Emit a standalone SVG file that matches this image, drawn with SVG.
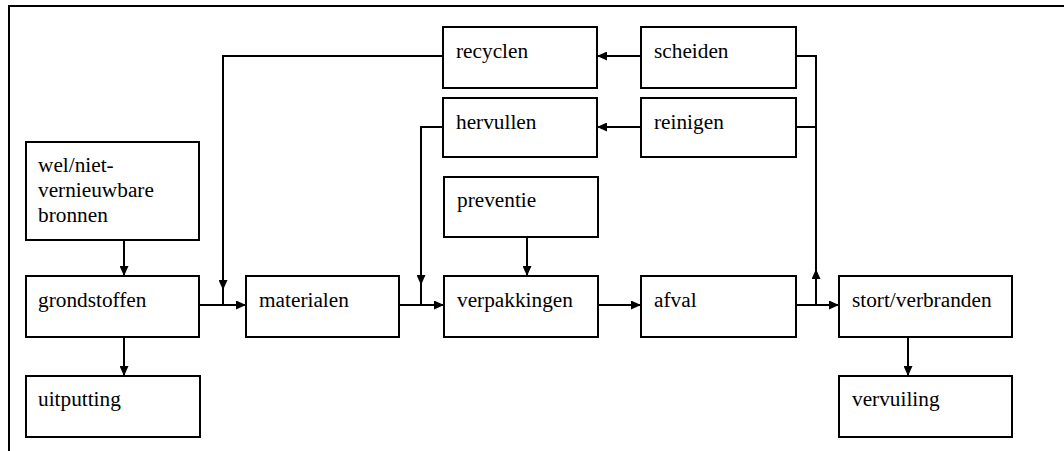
<svg xmlns="http://www.w3.org/2000/svg" width="1064" height="451" viewBox="0 0 1064 451">
<style>
.box{fill:#fff;stroke:#000;stroke-width:2}
.lbl{font-family:'Liberation Serif','DejaVu Serif','Noto Serif',serif;font-size:21.3px;fill:#000}
.ln{fill:none;stroke:#000;stroke-width:2}
</style>
<defs>
<marker id="ah" markerUnits="userSpaceOnUse" markerWidth="10" markerHeight="9" refX="10" refY="4.5" orient="auto">
<path d="M0,0 L10,4.5 L0,9 Z" fill="#000"/>
</marker>
</defs>
<rect width="1064" height="451" fill="#fff"/>
<g id="frame">
<path class="ln" d="M9,451 V6 H1064"/>
</g>
<g id="connectors">
<path class="ln" d="M124,240 V276" marker-end="url(#ah)"/>
<path class="ln" d="M124,337 V376" marker-end="url(#ah)"/>
<path class="ln" d="M199,305 H246" marker-end="url(#ah)"/>
<path class="ln" d="M443,56 H223 V290" marker-end="url(#ah)"/>
<path class="ln" d="M223,289 V305"/>
<path class="ln" d="M399,305 H444" marker-end="url(#ah)"/>
<path class="ln" d="M443,127 H421 V285" marker-end="url(#ah)"/>
<path class="ln" d="M421,284 V305"/>
<path class="ln" d="M527,237 V276" marker-end="url(#ah)"/>
<path class="ln" d="M598,305 H641" marker-end="url(#ah)"/>
<path class="ln" d="M641,56 H597" marker-end="url(#ah)"/>
<path class="ln" d="M641,127 H597" marker-end="url(#ah)"/>
<path class="ln" d="M796,305 H839" marker-end="url(#ah)"/>
<path class="ln" d="M796,56 H816 V270"/>
<path class="ln" d="M796,127 H816"/>
<path class="ln" d="M816,305 V269" marker-end="url(#ah)"/>
<path class="ln" d="M908,337 V376" marker-end="url(#ah)"/>
</g>
<g id="bronnen"><rect class="box" x="26" y="142" width="173" height="98"/><text class="lbl" x="38"><tspan x="38" y="172">wel/niet-</tspan><tspan x="38" y="197">vernieuwbare</tspan><tspan x="38" y="222">bronnen</tspan></text></g>
<g id="grondstoffen"><rect class="box" x="26" y="276" width="173" height="61"/><text class="lbl" x="38" y="307">grondstoffen</text></g>
<g id="uitputting"><rect class="box" x="26" y="376" width="174" height="61"/><text class="lbl" x="38" y="406">uitputting</text></g>
<g id="materialen"><rect class="box" x="246" y="276" width="153" height="61"/><text class="lbl" x="259" y="307">materialen</text></g>
<g id="recyclen"><rect class="box" x="443" y="27" width="154" height="61"/><text class="lbl" x="456" y="58">recyclen</text></g>
<g id="hervullen"><rect class="box" x="443" y="98" width="154" height="59"/><text class="lbl" x="456" y="129">hervullen</text></g>
<g id="preventie"><rect class="box" x="444" y="177" width="154" height="60"/><text class="lbl" x="457" y="207">preventie</text></g>
<g id="verpakkingen"><rect class="box" x="444" y="276" width="154" height="61"/><text class="lbl" x="457" y="307">verpakkingen</text></g>
<g id="scheiden"><rect class="box" x="641" y="27" width="155" height="61"/><text class="lbl" x="654" y="58">scheiden</text></g>
<g id="reinigen"><rect class="box" x="641" y="98" width="155" height="59"/><text class="lbl" x="654" y="129">reinigen</text></g>
<g id="afval"><rect class="box" x="641" y="276" width="155" height="61"/><text class="lbl" x="654" y="307">afval</text></g>
<g id="stort"><rect class="box" x="839" y="276" width="173" height="61"/><text class="lbl" x="852" y="307">stort/verbranden</text></g>
<g id="vervuiling"><rect class="box" x="839" y="376" width="173" height="61"/><text class="lbl" x="852" y="406">vervuiling</text></g>
</svg>
